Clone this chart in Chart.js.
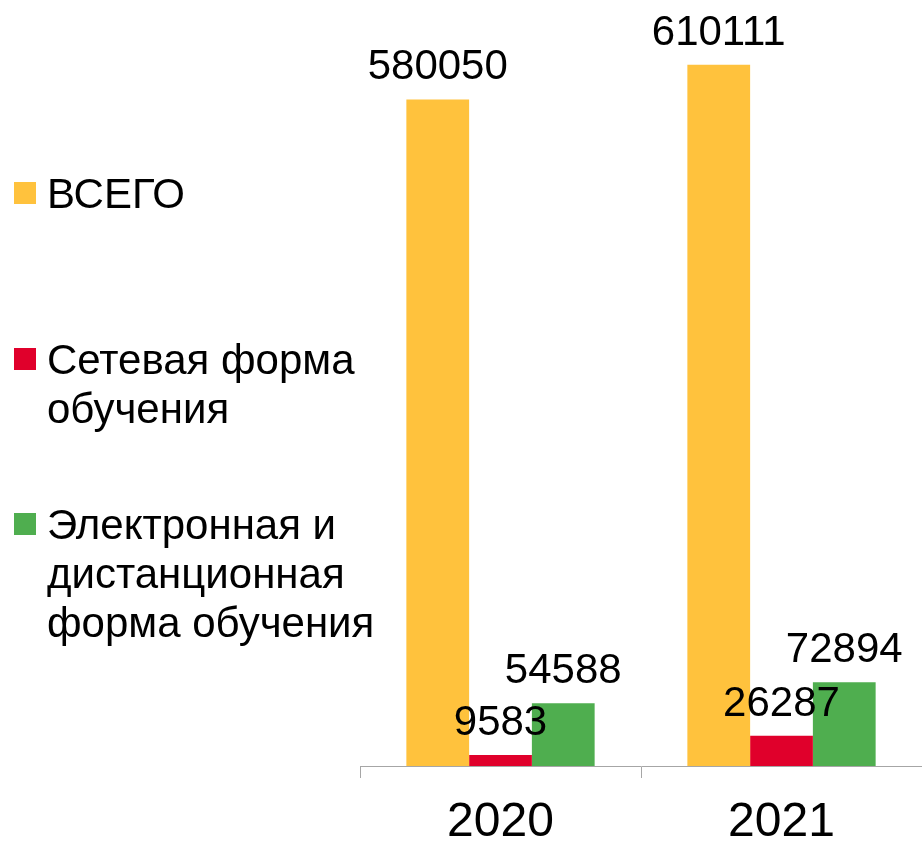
<!DOCTYPE html>
<html>
<head>
<meta charset="utf-8">
<script src="https://cdn.jsdelivr.net/npm/chart.js@4"></script>
<style>
  body { margin: 0; background: #fff; }
  #wrap { position: relative; width: 922px; height: 842px; }
  #legend { position: absolute; left: 0; top: 0; font-family: "Liberation Sans", Arial, sans-serif; font-size: 42px; line-height: 49px; color: #000; }
  .item { position: absolute; left: 14px; width: 360px; }
  .box { position: absolute; left: 0; top: 13px; width: 22px; height: 22px; }
  .txt { position: absolute; left: 33px; width: 335px; }
</style>
</head>
<body>
<div id="wrap">
  <canvas id="chart"></canvas>
  <div id="legend"></div>
</div>
<script>
const years = ["2020", "2021"];
const seriesNames = ["ВСЕГО", "Сетевая форма обучения", "Электронная и дистанционная форма обучения"];
const totalValues = [580050, 610111];
const networkValues = [9583, 26287];
const onlineValues = [54588, 72894];
const colors = ["#FFC23D", "#E0002B", "#4FAE4F"];

const valueLabels = {
  id: "valueLabels",
  afterDatasetsDraw(chart) {
    const ctx = chart.ctx;
    ctx.save();
    ctx.font = "42px 'Liberation Sans', Arial, sans-serif";
    ctx.fillStyle = "#000";
    ctx.textAlign = "center";
    ctx.textBaseline = "alphabetic";
    chart.data.datasets.forEach((ds, i) => {
      chart.getDatasetMeta(i).data.forEach((bar, j) => {
        ctx.fillText(String(ds.data[j]), bar.x, bar.y - 20);
      });
    });
    ctx.restore();
  }
};

const chart = new Chart(document.getElementById("chart"), {
  type: "bar",
  data: {
    labels: years,
    datasets: [
      { label: seriesNames[0], data: totalValues, backgroundColor: colors[0] },
      { label: seriesNames[1], data: networkValues, backgroundColor: colors[1] },
      { label: seriesNames[2], data: onlineValues, backgroundColor: colors[2] }
    ]
  },
  options: {
    responsive: true,
    maintainAspectRatio: false,
    animation: false,
    layout: { padding: { left: 360, top: 19, right: 0, bottom: 0 } },
    datasets: { bar: { categoryPercentage: 0.67, barPercentage: 1.0 } },
    plugins: {
      legend: { display: false },
      tooltip: { enabled: false }
    },
    scales: {
      x: {
        grid: { drawOnChartArea: false, drawTicks: true, tickLength: 12, color: "#A6A6A6" },
        border: { display: true, color: "#A6A6A6", width: 1 },
        ticks: {
          color: "#000",
          padding: 21,
          font: { family: "'Liberation Sans', Arial, sans-serif", size: 48, lineHeight: 1 }
        },
        afterFit(scale) { scale.height = 76; }
      },
      y: {
        display: false,
        min: 0,
        max: 650000
      }
    }
  },
  plugins: [valueLabels]
});

// legend built from the series names and dataset colours
const legend = document.getElementById("legend");
seriesNames.forEach((name, i) => {
  const item = document.createElement("div");
  item.className = "item";
  item.style.top = (169 + i * 165.5) + "px";
  const box = document.createElement("div");
  box.className = "box";
  box.style.background = chart.data.datasets[i].backgroundColor;
  const txt = document.createElement("div");
  txt.className = "txt";
  txt.textContent = name;
  item.appendChild(box);
  item.appendChild(txt);
  legend.appendChild(item);
});
</script>
</body>
</html>
